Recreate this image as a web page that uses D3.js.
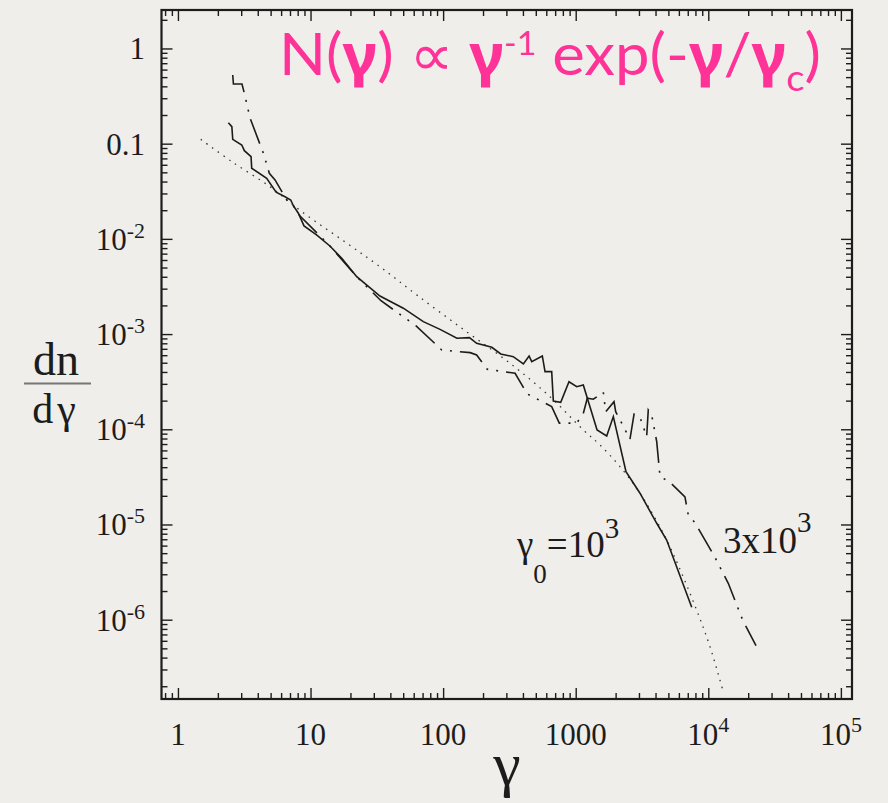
<!DOCTYPE html>
<html>
<head>
<meta charset="utf-8">
<script src="https://cdn.jsdelivr.net/npm/d3@7"></script>
<style>
  html, body { margin: 0; padding: 0; background: #efeeea; }
  svg { display: block; }
</style>
</head>
<body>
<div class="graph"></div>
<script>
// spectrum for gamma0 = 1e3 (solid), [gamma, dn/dgamma]
const run1e3 = [[2.40,1.66e-1],[2.55,1.51e-1],[2.59,1.11e-1],[3.03,9.69e-2],[3.17,8.44e-2],[3.56,7.30e-2],
  [3.60,5.52e-2],[4.67,4.33e-2],[5.50,3.09e-2],[6.42,2.77e-2],[7.09,2.56e-2],[7.42,2.23e-2],[8.09,1.86e-2],
  [8.93,1.37e-2],[11.1,1.10e-2],[14.0,8.42e-3],[17.2,6.25e-3],[22.3,4.01e-3],[33.4,2.51e-3],[50.1,1.87e-3],
  [70.9,1.35e-3],[94.8,1.12e-3],[127,9.04e-4],[158,9.17e-4],[179,8.00e-4],[233,7.27e-4],[272,6.18e-4],
  [338,5.79e-4],[403,4.85e-4],[445,5.89e-4],[466,5.13e-4],[560,5.89e-4],[587,4.03e-4],[659,4.03e-4],
  [678,1.98e-4],[771,1.92e-4],[890,3.16e-4],[1018,2.80e-4],[1141,2.92e-4],[1449,9.84e-5],[1713,8.51e-5],
  [1922,1.36e-4],[2395,3.59e-5],[3053,2.13e-5],[4083,1.03e-5],[4853,6.87e-6],[7499,1.35e-6]];

// spectrum for gamma0 = 3e3 (dash-dot)
const run3e3 = [[2.59,0.527],[2.62,0.424],[3.04,0.424],[3.17,0.338],[3.50,0.185],[4.41,7.93e-2],[4.89,4.89e-2],
  [5.40,4.16e-2],[6.62,2.56e-2],[7.42,2.23e-2],[8.33,1.74e-2],[12.5,9.90e-3],[14.0,8.42e-3],[22.3,4.01e-3],
  [34.0,2.24e-3],[62.5,1.22e-3],[97.6,6.81e-4],[160,6.38e-4],[179,6.03e-4],[215,4.27e-4],[349,3.87e-4],
  [431,2.35e-4],[659,1.73e-4],[752,1.16e-4],[1018,1.16e-4],[1141,1.47e-4],[1223,2.12e-4],[1357,2.07e-4],
  [1615,2.45e-4],[1683,1.53e-4],[1945,1.95e-4],[2003,1.53e-4],[2223,1.16e-4],[2566,7.85e-5],[2754,1.44e-4],
  [3053,1.34e-4],[3429,8.36e-5],[3526,1.60e-4],[3742,1.41e-4],[4083,7.41e-5],[4325,3.18e-5],[5082,2.82e-5],
  [6668,1.95e-5],[7063,1.26e-5],[7943,1.04e-5],[11230,4.52e-6],[14150,2.41e-6],[18160,9.93e-7],[22900,5.33e-7]];

// N(gamma) ~ gamma^-1 exp(-gamma/gamma_c)
const fitCurve = [[1.486,0.111],[2.55,6.47e-2],[4.95,3.53e-2],[8.59,1.93e-2],[18.8,9.0e-3],[33.4,5.1e-3],
  [63.2,2.58e-3],[142,1.12e-3],[320,4.93e-4],[640,2.20e-4],[1141,9.84e-5],[1525,6.84e-5],[2158,4.05e-5],
  [3053,2.13e-5],[4713,7.45e-6],[6300,3.07e-6],[8170,1.26e-6],[10300,5.20e-7],[12970,1.75e-7]];

const xMajor = [1, 10, 100, 1000, 1e4, 1e5];
const xLabels = [['1',''],['10',''],['100',''],['1000',''],['10','4'],['10','5']];
const yMajor = [1, 0.1, 1e-2, 1e-3, 1e-4, 1e-5, 1e-6];
const yLabels = [['1',''],['0.1',''],['10','-2'],['10','-3'],['10','-4'],['10','-5'],['10','-6']];

const dim = { w: 888, h: 803, left: 161.5, right: 852, top: 10, bottom: 699 };
const serif = "'Liberation Serif', 'Times New Roman', serif";
const ink = '#1c1c1c';

const svg = d3.select('.graph').append('svg').attr('width', dim.w).attr('height', dim.h);
svg.append('rect').attr('width', dim.w).attr('height', dim.h).attr('fill', '#efeeea');

const xScale = d3.scaleLog().domain([0.7516, 121300]).range([dim.left, dim.right]);
const yScale = d3.scaleLog().domain([1.469e-7, 2.535]).range([dim.bottom, dim.top]);

// minor ticks 2..9 per decade
const minorOf = (scale, lo, hi) => {
    let out = [];
    for (let e = lo; e <= hi; e++) for (let d = 2; d <= 9; d++) out.push(d * Math.pow(10, e));
    const [a, b] = scale.domain();
    return out.filter(v => v > a && v < b);
};
const xMinor = minorOf(xScale, -1, 5);
const yMinor = minorOf(yScale, -7, 0);

const addAxis = (axisFn, scale, vals, size, tr) => {
    const g = svg.append('g').attr('transform', tr)
        .call(axisFn(scale).tickValues(vals).tickSize(-size).tickFormat(''));
    g.select('.domain').remove();
    g.selectAll('line').attr('stroke', ink).attr('stroke-width', 1.4);
};
[[xMajor, 11], [xMinor, 6]].forEach(([v, s]) => {
    addAxis(d3.axisBottom, xScale, v, s, `translate(0,${dim.bottom})`);
    addAxis(d3.axisTop, xScale, v, s, `translate(0,${dim.top})`);
});
[[yMajor, 11], [yMinor, 6]].forEach(([v, s]) => {
    addAxis(d3.axisLeft, yScale, v, s, `translate(${dim.left},0)`);
    addAxis(d3.axisRight, yScale, v, s, `translate(${dim.right},0)`);
});

svg.append('rect')
    .attr('x', dim.left).attr('y', dim.top)
    .attr('width', dim.right - dim.left).attr('height', dim.bottom - dim.top)
    .attr('fill', 'none').attr('stroke', ink).attr('stroke-width', 2.2);

// tick labels
const xl = svg.append('g').attr('font-family', serif).attr('fill', ink)
    .selectAll('text').data(xMajor).join('text')
    .attr('x', d => xScale(d)).attr('y', 745).attr('text-anchor', 'middle').attr('font-size', 31);
xl.append('tspan').text((d, i) => xLabels[i][0]);
xl.append('tspan').attr('dy', -13).attr('font-size', 22).text((d, i) => xLabels[i][1]);

const yl = svg.append('g').attr('font-family', serif).attr('fill', ink)
    .selectAll('text').data(yMajor).join('text')
    .attr('x', 145).attr('y', d => yScale(d) + 11).attr('text-anchor', 'end').attr('font-size', 31);
yl.append('tspan').text((d, i) => yLabels[i][0]);
yl.append('tspan').attr('dy', -12).attr('font-size', 22).text((d, i) => yLabels[i][1]);

// curves
svg.append('clipPath').attr('id', 'plot').append('rect')
    .attr('x', dim.left).attr('y', dim.top)
    .attr('width', dim.right - dim.left).attr('height', dim.bottom - dim.top);
const line = d3.line().x(d => xScale(d[0])).y(d => yScale(d[1]));
const plot = svg.append('g').attr('clip-path', 'url(#plot)').attr('fill', 'none');

plot.append('path').attr('d', line.curve(d3.curveCatmullRom)(fitCurve))
    .attr('stroke', '#333').attr('stroke-width', 1.3).attr('stroke-dasharray', '1.5,5.5');
line.curve(d3.curveLinear);
plot.append('path').attr('d', line(run3e3))
    .attr('stroke', ink).attr('stroke-width', 1.6).attr('stroke-dasharray', '26,8,2,8,2,8');
plot.append('path').attr('d', line(run1e3))
    .attr('stroke', ink).attr('stroke-width', 1.6);

// annotations
const a1 = svg.append('text').attr('x', 517).attr('y', 557)
    .attr('font-family', serif).attr('font-size', 37).attr('fill', ink);
a1.append('tspan').text('γ');
a1.append('tspan').attr('dy', 26).attr('font-size', 27).text('0');
a1.append('tspan').attr('dy', -26).text('=10');
a1.append('tspan').attr('dy', -19).attr('font-size', 29).text('3');

const a2 = svg.append('text').attr('x', 723).attr('y', 553)
    .attr('font-family', serif).attr('font-size', 37).attr('fill', ink);
a2.append('tspan').text('3x10');
a2.append('tspan').attr('dy', -21).attr('font-size', 29).text('3');

// axis titles
svg.append('text').attr('x', 507).attr('y', 785).attr('text-anchor', 'middle')
    .attr('font-family', serif).attr('font-size', 62).attr('fill', ink).text('γ');
svg.append('text').attr('x', 56).attr('y', 375).attr('text-anchor', 'middle')
    .attr('font-family', serif).attr('font-size', 46).attr('fill', ink).text('dn');
svg.append('line').attr('x1', 24).attr('x2', 91).attr('y1', 383.5).attr('y2', 383.5)
    .attr('stroke', '#777').attr('stroke-width', 2);
svg.append('text').attr('x', 56).attr('y', 423).attr('text-anchor', 'middle')
    .attr('font-family', serif).attr('font-size', 42).attr('letter-spacing', 4).attr('fill', ink).text('dγ');

// title
const pink = '#ff3298';
const title = svg.append('text').attr('font-family', "Lato, 'Noto Sans', 'DejaVu Sans', sans-serif")
    .attr('font-size', 58).attr('fill', pink);
const gam = () => title.append('tspan').attr('font-family', "'Noto Sans', 'DejaVu Sans', sans-serif")
    .attr('font-weight', 'bold').text('γ');
title.append('tspan').text('N(');
gam();
title.append('tspan').text(') ∝ ');
gam();
title.append('tspan').attr('dy', -20).attr('font-size', 32).text('-1');
title.append('tspan').attr('dy', 20).text(' exp(-');
gam();
title.append('tspan').text('/');
gam();
title.append('tspan').attr('dy', 16).attr('font-size', 36).text('c');
title.append('tspan').attr('dy', -16).text(')');
const tw = title.node().getBBox().width;
title.attr('transform', `translate(279,75) scale(${542 / tw},1)`);
</script>
</body>
</html>
